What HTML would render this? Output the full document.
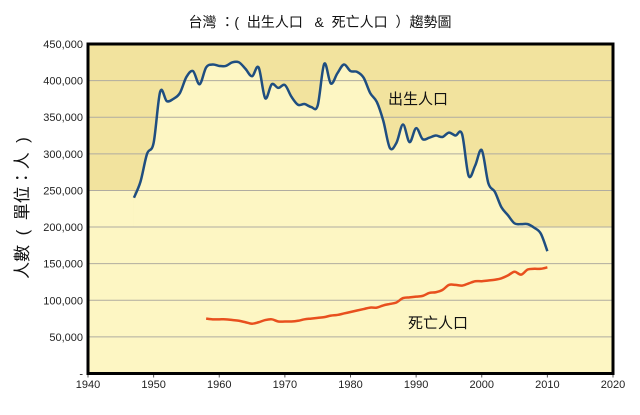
<!DOCTYPE html>
<html><head><meta charset="utf-8"><style>
body{margin:0;background:#fff;}
svg text{font-family:"Liberation Sans","Noto Sans CJK TC",sans-serif;}
.pre{white-space:pre;}
</style></head><body>
<svg id="chart" width="640" height="410" xmlns="http://www.w3.org/2000/svg">
<text class="pre" x="320" y="27" font-size="14" text-anchor="middle" fill="#111">台灣 ：(  出生人口   &amp;  死亡人口  ）趨勢圖</text>
<text class="pre" transform="translate(28,208) rotate(-90)" font-size="17" text-anchor="middle" fill="#111">人數  (  單位：人  )</text>
<g id="plot"></g>
</svg>
<script>
const years=[1947,1948,1949,1950,1951,1952,1953,1954,1955,1956,1957,1958,1959,1960,1961,1962,1963,1964,1965,1966,1967,1968,1969,1970,1971,1972,1973,1974,1975,1976,1977,1978,1979,1980,1981,1982,1983,1984,1985,1986,1987,1988,1989,1990,1991,1992,1993,1994,1995,1996,1997,1998,1999,2000,2001,2002,2003,2004,2005,2006,2007,2008,2009,2010];
const births=[240000,262000,300000,315000,385000,372000,375000,383000,405000,413000,395000,418000,422000,420000,420000,425000,425000,416000,406000,418000,376000,395000,390000,394000,378000,367000,368000,364000,366000,423000,396000,410000,422000,413000,412000,404000,383000,371000,345000,308000,315000,340000,316000,335000,320000,322000,325000,323000,329000,325000,327000,270000,284000,305000,260000,248000,227000,216000,205000,204000,204000,199000,191000,167000];
const deathYears=[1958,1959,1960,1961,1962,1963,1964,1965,1966,1967,1968,1969,1970,1971,1972,1973,1974,1975,1976,1977,1978,1979,1980,1981,1982,1983,1984,1985,1986,1987,1988,1989,1990,1991,1992,1993,1994,1995,1996,1997,1998,1999,2000,2001,2002,2003,2004,2005,2006,2007,2008,2009,2010];
const deaths=[75000,74000,74000,74000,73000,72000,70000,68000,70000,73000,74000,71000,71000,71000,72000,74000,75000,76000,77000,79000,80000,82000,84000,86000,88000,90000,90000,93000,95000,97000,103000,104000,105000,106000,110000,111000,114000,121000,121000,120000,123000,126000,126000,127000,128000,130000,134000,139000,135000,142000,143000,143000,145000];
const yTicks=[0,50000,100000,150000,200000,250000,300000,350000,400000,450000];
const xTicks=[1940,1950,1960,1970,1980,1990,2000,2010,2020];
const X0=88,X1=613,Y0=373.5,Y1=44;
const xs=v=>X0+(v-1940)/80*(X1-X0);
const ys=v=>Y0-(v/450000)*(Y0-Y1);
const NS="http://www.w3.org/2000/svg";
const g=document.getElementById('plot');
function mk(t,a){const e=document.createElementNS(NS,t);for(const k in a)e.setAttribute(k,a[k]);g.appendChild(e);return e;}
function smooth(pts){let d=`M${pts[0][0]},${pts[0][1]}`;for(let i=0;i<pts.length-1;i++){const p0=pts[i-1]||pts[i],p1=pts[i],p2=pts[i+1],p3=pts[i+2]||p2;const c1=[p1[0]+(p2[0]-p0[0])/6,p1[1]+(p2[1]-p0[1])/6],c2=[p2[0]-(p3[0]-p1[0])/6,p2[1]-(p3[1]-p1[1])/6];d+=` C${c1[0]},${c1[1]} ${c2[0]},${c2[1]} ${p2[0]},${p2[1]}`;}return d;}
let e=mk('rect',{x:X0,y:Y1,width:X1-X0,height:Y0-Y1,fill:'#f2e39e'});

const bp=years.map((y,i)=>[xs(y),ys(births[i])]);
e=mk('rect',{x:X0,y:ys(200000),width:X1-X0,height:Y0-ys(200000),fill:'#fdf6c3'});

e=mk('rect',{x:X0,y:ys(250000),width:xs(years[0])-X0,height:Y0-ys(250000),fill:'#fdf6c3'});

const bd=smooth(bp);
e=mk('path',{d:bd+` L${bp[bp.length-1][0]},${Y0} L${bp[0][0]},${Y0} Z`,fill:'#fdf6c3'});

yTicks.forEach(t=>{if(t>0){const l=mk('line',{x1:X0,x2:X1,y1:ys(t),y2:ys(t),stroke:'#b0aca0','stroke-width':1});
}
const tx=mk('text',{x:83,y:ys(t)+4,'font-size':11,'text-anchor':'end',fill:'#222'});tx.textContent=t?t.toLocaleString('en-US'):'-';
});
xTicks.forEach(t=>{const tx=mk('text',{x:xs(t),y:388,'font-size':11,'text-anchor':'middle',fill:'#222'});tx.textContent=t;

const tk=mk('line',{x1:xs(t),x2:xs(t),y1:Y0,y2:Y0+4,stroke:'#555'});
});
e=mk('path',{d:bd,fill:'none',stroke:'#1f4e80','stroke-width':2.5});

const dp=deathYears.map((y,i)=>[xs(y),ys(deaths[i])]);
e=mk('path',{d:smooth(dp),fill:'none',stroke:'#e8501e','stroke-width':2.5});

e=mk('rect',{x:X0,y:Y1,width:X1-X0,height:Y0-Y1,fill:'none',stroke:'#000','stroke-width':3});

e=mk('text',{x:388,y:104,'font-size':15,fill:'#111'});e.textContent='出生人口';

e=mk('text',{x:408,y:328,'font-size':15,fill:'#111'});e.textContent='死亡人口';

</script>
</body></html>
